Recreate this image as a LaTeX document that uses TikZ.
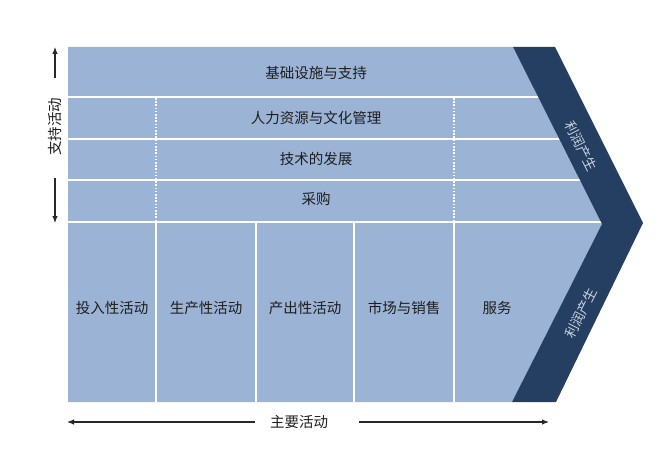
\documentclass[tikz,border=0pt]{standalone}
\usepackage{fontspec}
\newfontfamily\cjk{Noto Sans CJK SC}
\usetikzlibrary{arrows.meta}
\definecolor{lightb}{RGB}{155,179,213}
\definecolor{darkb}{RGB}{37,63,98}
\definecolor{txtc}{RGB}{30,30,30}
\definecolor{bandtxt}{RGB}{200,210,224}
\definecolor{arrowc}{RGB}{40,40,40}
\begin{document}
\begin{tikzpicture}[x=1pt,y=-1pt,
  lbl/.style={font=\cjk\fontsize{14.5}{16}\selectfont, text=txtc, inner sep=0pt},
  bandlbl/.style={font=\cjk\fontsize{13.5}{15}\selectfont, text=bandtxt, inner sep=0pt},
  divider/.style={draw=white, line width=2pt},
  dotdiv/.style={draw=white, line width=1.6pt, dash pattern=on 1.6pt off 1.6pt},
  arr/.style={draw=arrowc, line width=1.1pt, -{Latex[length=7pt,width=5.5pt]}}]
\useasboundingbox (0,0) rectangle (666,465);
\fill[white] (0,0) rectangle (666,465);
% light body
\fill[lightb] (68,47) -- (513,47) -- (602,224) -- (512,402) -- (68,402) -- cycle;
% horizontal dividers
\draw[divider] (68,97) -- (545,97);
\draw[divider] (68,139) -- (566,139);
\draw[divider] (68,180) -- (587,180);
\draw[divider, line width=2.4pt] (68,222) -- (608,222);
% dotted verticals in support rows
\draw[dotdiv] (156,98) -- (156,221);
\draw[dotdiv] (454,98) -- (454,221);
% solid verticals in primary rows
\draw[divider] (156,222) -- (156,402);
\draw[divider] (255.5,222) -- (255.5,402);
\draw[divider] (354,222) -- (354,402);
\draw[divider] (454,222) -- (454,402);
% dark margin band
\fill[darkb] (513,47) -- (555,47) -- (643,223) -- (556,402) -- (512,402) -- (602,224) -- cycle;
% labels
\node[lbl] (infra) at (316,73) {基础设施与支持};
\node[lbl] (hr) at (316,118) {人力资源与文化管理};
\node[lbl] (tech) at (316,159) {技术的发展};
\node[lbl] (proc) at (316,199) {采购};
\node[lbl] (inb) at (112,308) {投入性活动};
\node[lbl] (ops) at (206,308) {生产性活动};
\node[lbl] (outb) at (305,308) {产出性活动};
\node[lbl] (mkt) at (404,308) {市场与销售};
\node[lbl] (serv) at (497,308) {服务};
\node[bandlbl, rotate=-63.3] (m1) at (581,146) {利润产生};
\node[bandlbl, rotate=63] (m2) at (581,313) {利润产生};
% support activities axis
\node[lbl, rotate=90] (sup) at (55,127) {支持活动};
\coordinate (s1) at (55,78);
\coordinate (s2) at (55,47);
\coordinate (s3) at (55,178);
\coordinate (s4) at (55,223);
\draw[arr] (s1) -- (s2);
\draw[arr] (s3) -- (s4);
% primary activities axis
\node[lbl] (prim) at (299,422) {主要活动};
\coordinate (p1) at (255,422);
\coordinate (p2) at (67,422);
\coordinate (p3) at (359,422);
\coordinate (p4) at (549,422);
\draw[arr] (p1) -- (p2);
\draw[arr] (p3) -- (p4);
\end{tikzpicture}
\end{document}
